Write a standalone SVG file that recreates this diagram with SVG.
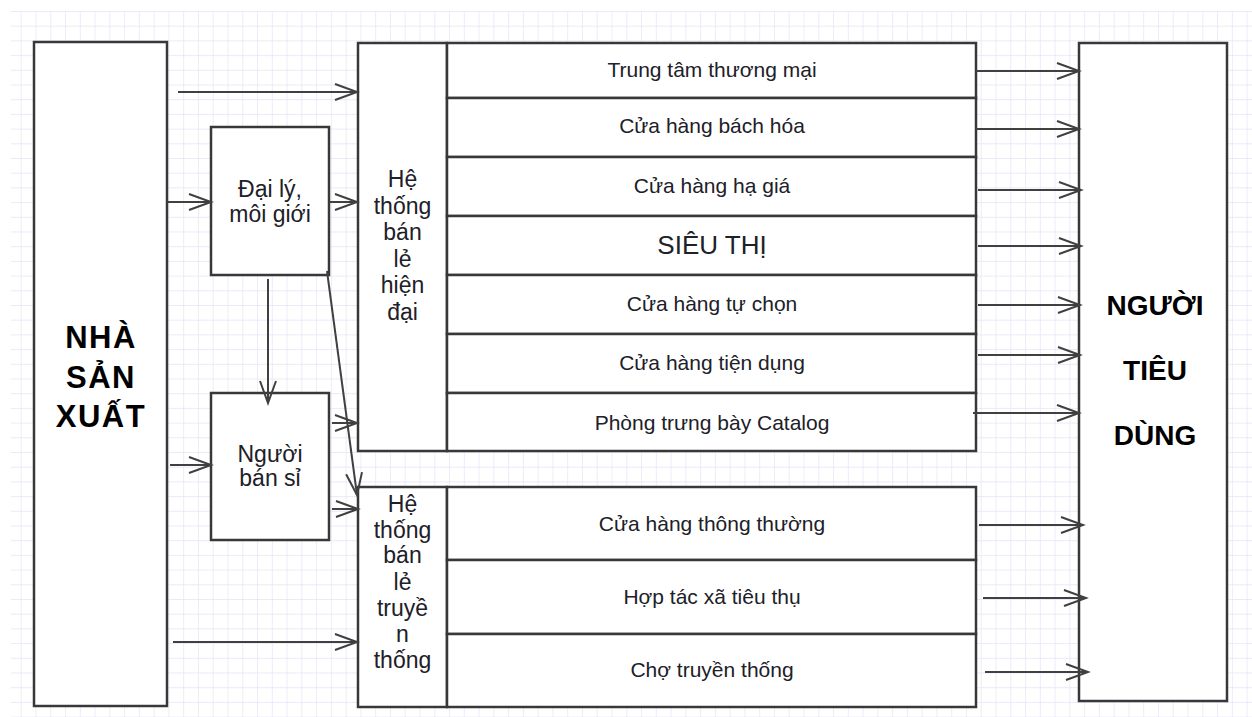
<svg xmlns="http://www.w3.org/2000/svg" width="1252" height="717" viewBox="0 0 1252 717">
<style>
.box{fill:#fff;stroke:#383838;stroke-width:2.5}
.t{font-family:"Liberation Sans",Arial,sans-serif;fill:#202028;text-anchor:middle}
.row{font-size:21px}
.col{font-size:23px}
.big{font-size:31px;font-weight:bold;fill:#000;letter-spacing:1.5px}
.big2{font-size:28px;font-weight:bold;fill:#000}
.c{fill:none;stroke:#404040;stroke-width:2}
</style>
<defs>
<pattern id="grid" patternUnits="userSpaceOnUse" x="20.7" y="11" width="14.77" height="14.7">
<path d="M0,0 V14.7 M0,0 H14.77" fill="none" stroke="#e3e3f7" stroke-width="1.3"/>
</pattern>
<marker id="ah" markerUnits="userSpaceOnUse" markerWidth="30" markerHeight="30" viewBox="-25 -12 30 24" refX="0" refY="0" orient="auto" overflow="visible">
<path d="M-22,-8 L0,0 L-22,8" fill="none" stroke="#404040" stroke-width="2"/>
</marker>
</defs>
<rect width="1252" height="717" fill="#fff"/>
<rect x="11" y="11" width="1241" height="706" fill="url(#grid)"/>

<g id="nha-san-xuat">
<rect class="box" x="34" y="42" width="133" height="664"/>
<text class="t big" x="101" y="348">NHÀ</text>
<text class="t big" x="101" y="388">SẢN</text>
<text class="t big" x="101" y="427">XUẤT</text>
</g>

<g id="dai-ly">
<rect class="box" x="211" y="127" width="118" height="148"/>
<text class="t col" x="270" y="197">Đại lý,</text>
<text class="t col" x="270" y="222">môi giới</text>
</g>

<g id="nguoi-ban-si">
<rect class="box" x="211" y="393" width="118" height="147"/>
<text class="t col" x="270" y="462">Người</text>
<text class="t col" x="270" y="486">bán sỉ</text>
</g>

<g id="he-thong-hien-dai">
<rect class="box" x="358" y="43" width="89" height="408"/>
<text class="t col" x="402.5" y="187">Hệ</text>
<text class="t col" x="402.5" y="213.5">thống</text>
<text class="t col" x="402.5" y="240">bán</text>
<text class="t col" x="402.5" y="266.5">lẻ</text>
<text class="t col" x="402.5" y="293">hiện</text>
<text class="t col" x="402.5" y="319.5">đại</text>
</g>

<g id="trung-tam-thuong-mai">
<rect class="box" x="447" y="43" width="529" height="55"/>
<text class="t row" x="712" y="77">Trung tâm thương mại</text>
</g>
<g id="cua-hang-bach-hoa">
<rect class="box" x="447" y="98" width="529" height="59"/>
<text class="t row" x="712" y="133">Cửa hàng bách hóa</text>
</g>
<g id="cua-hang-ha-gia">
<rect class="box" x="447" y="157" width="529" height="59"/>
<text class="t row" x="712" y="193">Cửa hàng hạ giá</text>
</g>
<g id="sieu-thi">
<rect class="box" x="447" y="216" width="529" height="59"/>
<text class="t" x="712" y="254" font-size="26">SIÊU THỊ</text>
</g>
<g id="cua-hang-tu-chon">
<rect class="box" x="447" y="275" width="529" height="59"/>
<text class="t row" x="712" y="311">Cửa hàng tự chọn</text>
</g>
<g id="cua-hang-tien-dung">
<rect class="box" x="447" y="334" width="529" height="59"/>
<text class="t row" x="712" y="370">Cửa hàng tiện dụng</text>
</g>
<g id="phong-trung-bay-catalog">
<rect class="box" x="447" y="393" width="529" height="58"/>
<text class="t row" x="712" y="430">Phòng trưng bày Catalog</text>
</g>

<g id="he-thong-truyen-thong">
<rect class="box" x="358" y="487" width="89" height="220"/>
<text class="t col" x="402.5" y="512">Hệ</text>
<text class="t col" x="402.5" y="537.5">thống</text>
<text class="t col" x="402.5" y="563">bán</text>
<text class="t col" x="402.5" y="589.5">lẻ</text>
<text class="t col" x="402.5" y="616">truyề</text>
<text class="t col" x="402.5" y="642">n</text>
<text class="t col" x="402.5" y="668">thống</text>
</g>

<g id="cua-hang-thong-thuong">
<rect class="box" x="447" y="487" width="529" height="73"/>
<text class="t row" x="712" y="531">Cửa hàng thông thường</text>
</g>
<g id="hop-tac-xa-tieu-thu">
<rect class="box" x="447" y="560" width="529" height="74"/>
<text class="t row" x="712" y="604">Hợp tác xã tiêu thụ</text>
</g>
<g id="cho-truyen-thong">
<rect class="box" x="447" y="634" width="529" height="73"/>
<text class="t row" x="712" y="677">Chợ truyền thống</text>
</g>

<g id="nguoi-tieu-dung">
<rect class="box" x="1079" y="43" width="148" height="658"/>
<text class="t big2" x="1155" y="315">NGƯỜI</text>
<text class="t big2" x="1155" y="380">TIÊU</text>
<text class="t big2" x="1155" y="445">DÙNG</text>
</g>

<g id="connectors">
<line class="c" x1="178" y1="92" x2="357" y2="92" marker-end="url(#ah)"/>
<line class="c" x1="167" y1="202" x2="211" y2="202" marker-end="url(#ah)"/>
<line class="c" x1="330" y1="202" x2="357" y2="202" marker-end="url(#ah)"/>
<line class="c" x1="268" y1="279" x2="268" y2="403" marker-end="url(#ah)" stroke="#555"/>
<line class="c" x1="327" y1="271" x2="357" y2="495" marker-end="url(#ah)" stroke-width="1.6"/>
<line class="c" x1="332" y1="423" x2="357" y2="423" marker-end="url(#ah)"/>
<line class="c" x1="170" y1="465" x2="211" y2="465" marker-end="url(#ah)"/>
<line class="c" x1="332" y1="509" x2="358" y2="509" marker-end="url(#ah)"/>
<line class="c" x1="173" y1="642" x2="357" y2="642" marker-end="url(#ah)"/>

<line class="c" x1="976" y1="71" x2="1079" y2="71" marker-end="url(#ah)"/>
<line class="c" x1="976" y1="129" x2="1079" y2="129" marker-end="url(#ah)"/>
<line class="c" x1="978" y1="190" x2="1081" y2="190" marker-end="url(#ah)"/>
<line class="c" x1="978" y1="246" x2="1081" y2="246" marker-end="url(#ah)"/>
<line class="c" x1="978" y1="305" x2="1080" y2="305" marker-end="url(#ah)"/>
<line class="c" x1="978" y1="355" x2="1080" y2="355" marker-end="url(#ah)"/>
<line class="c" x1="973" y1="413" x2="1079" y2="413" marker-end="url(#ah)"/>
<line class="c" x1="979" y1="525" x2="1083" y2="525" marker-end="url(#ah)"/>
<line class="c" x1="983" y1="598" x2="1086" y2="598" marker-end="url(#ah)"/>
<line class="c" x1="985" y1="672" x2="1088" y2="672" marker-end="url(#ah)"/>
</g>
</svg>
